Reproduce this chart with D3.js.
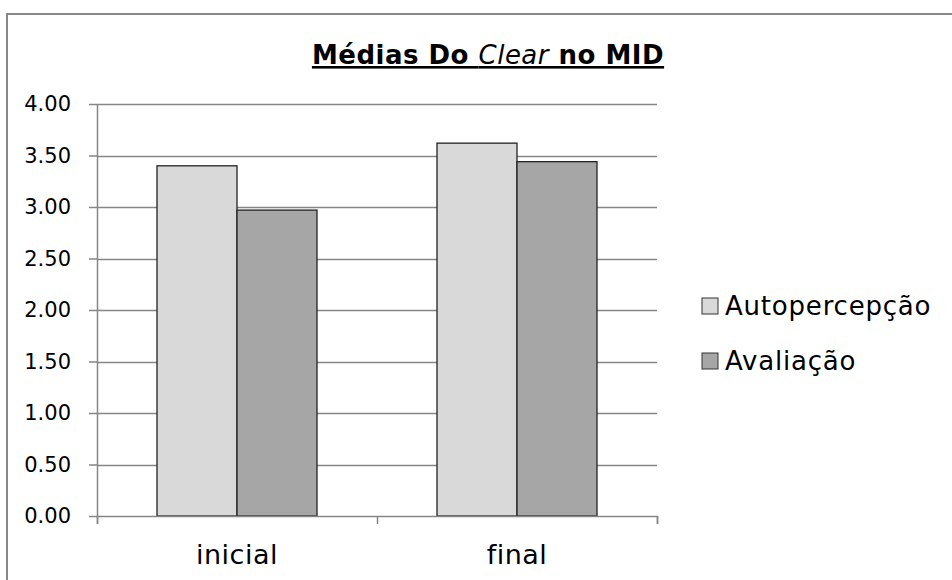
<!DOCTYPE html>
<html>
<head>
<meta charset="utf-8">
<script src="https://cdn.jsdelivr.net/npm/d3@7"></script>
<style>
  body { margin: 0; background: #fff; }
  svg { display: block; font-family: "DejaVu Sans", sans-serif; }
</style>
</head>
<body>
<div id="chart"></div>
<script>
// Data
const categories = ["inicial", "final"];
const seriesNames = ["Autopercepção", "Avaliação"];
const autopercepcao = [3.40, 3.62];
const avaliacao = [2.97, 3.44];
const yTicks = [0, 0.5, 1, 1.5, 2, 2.5, 3, 3.5, 4];

const width = 952, height = 580;
const colors = ["#d9d9d9", "#a6a6a6"];

const svg = d3.select("#chart").append("svg")
    .attr("width", width)
    .attr("height", height);

// outer chart border (runs off right and bottom)
svg.append("path")
    .attr("d", `M7,${height + 5} L7,14 L${width + 5},14`)
    .attr("fill", "none")
    .attr("stroke", "#888")
    .attr("stroke-width", 2);

const plotLeft = 97, plotRight = 657, plotTop = 104, plotBottom = 516;

const y = d3.scaleLinear().domain([0, 4]).range([plotBottom, plotTop]);
const x0 = d3.scaleBand().domain(categories).range([plotLeft, plotRight])
    .paddingInner(0.4286).paddingOuter(0.2143);
const x1 = d3.scaleBand().domain(seriesNames).range([0, x0.bandwidth()]);

// gridlines
svg.append("g").selectAll("line")
    .data(yTicks.filter(d => d > 0))
    .enter().append("line")
    .attr("x1", plotLeft).attr("x2", plotRight)
    .attr("y1", d => Math.round(y(d)) + 0.5)
    .attr("y2", d => Math.round(y(d)) + 0.5)
    .attr("stroke", "#868686")
    .attr("stroke-width", 1.5);

// bars
const rows = categories.map((c, i) => ({cat: c, vals: [autopercepcao[i], avaliacao[i]]}));
const groups = svg.selectAll(".grp")
    .data(rows)
    .enter().append("g")
    .attr("transform", d => `translate(${x0(d.cat)},0)`);

groups.selectAll("rect")
    .data(d => d.vals.map((v, j) => ({name: seriesNames[j], v: v, j: j})))
    .enter().append("rect")
    .attr("x", d => x1(d.name))
    .attr("y", d => y(d.v))
    .attr("width", x1.bandwidth())
    .attr("height", d => plotBottom - y(d.v))
    .attr("fill", d => colors[d.j])
    .attr("stroke", "#222")
    .attr("stroke-width", 1.3);

// y axis
const yAxis = d3.axisLeft(y).tickValues(yTicks).tickFormat(d3.format(".2f")).tickSize(8).tickSizeOuter(0);
const gy = svg.append("g").attr("transform", `translate(${plotLeft},0)`).call(yAxis);
gy.select(".domain").attr("stroke", "#868686").attr("stroke-width", 1.5);
gy.selectAll(".tick line").attr("stroke", "#868686").attr("stroke-width", 1.5);
gy.selectAll(".tick text")
    .attr("x", -26)
    .attr("fill", "#000")
    .style("font-size", "21px")
    .style("font-family", "DejaVu Sans, sans-serif");

// x axis
const xAxis = d3.axisBottom(d3.scaleLinear().domain([0, 2]).range([plotLeft, plotRight]))
    .tickValues([0, 1, 2]).tickSize(8).tickFormat("");
const gx = svg.append("g").attr("transform", `translate(0,${plotBottom})`).call(xAxis);
gx.select(".domain").attr("stroke", "#868686").attr("stroke-width", 1.5);
gx.selectAll(".tick line").attr("stroke", "#868686").attr("stroke-width", 1.5);

svg.append("g").selectAll("text")
    .data(categories)
    .enter().append("text")
    .attr("x", d => x0(d) + x0.bandwidth() / 2)
    .attr("y", 564)
    .attr("text-anchor", "middle")
    .style("font-size", "27px")
    .style("letter-spacing", "0.5px")
    .text(d => d);

// title
const title = svg.append("text")
    .attr("x", 488)
    .attr("y", 64)
    .attr("text-anchor", "middle")
    .style("font-size", "26px")
    .style("font-weight", "bold")
    .style("letter-spacing", "0.5px")
    .style("text-decoration", "underline");
title.append("tspan").text("Médias Do ");
title.append("tspan").style("font-style", "italic").style("font-weight", "normal").text("Clear");
title.append("tspan").text(" no MID");

// legend
const legend = svg.selectAll(".legend")
    .data(seriesNames)
    .enter().append("g")
    .attr("transform", (d, i) => `translate(702,${298 + i * 55})`);

legend.append("rect")
    .attr("width", 16).attr("height", 16)
    .attr("fill", (d, i) => colors[i])
    .attr("stroke", "#333")
    .attr("stroke-width", 1);

legend.append("text")
    .attr("x", 23)
    .attr("y", 17)
    .style("font-size", "26px")
    .style("letter-spacing", "0.8px")
    .text(d => d);
</script>
</body>
</html>
